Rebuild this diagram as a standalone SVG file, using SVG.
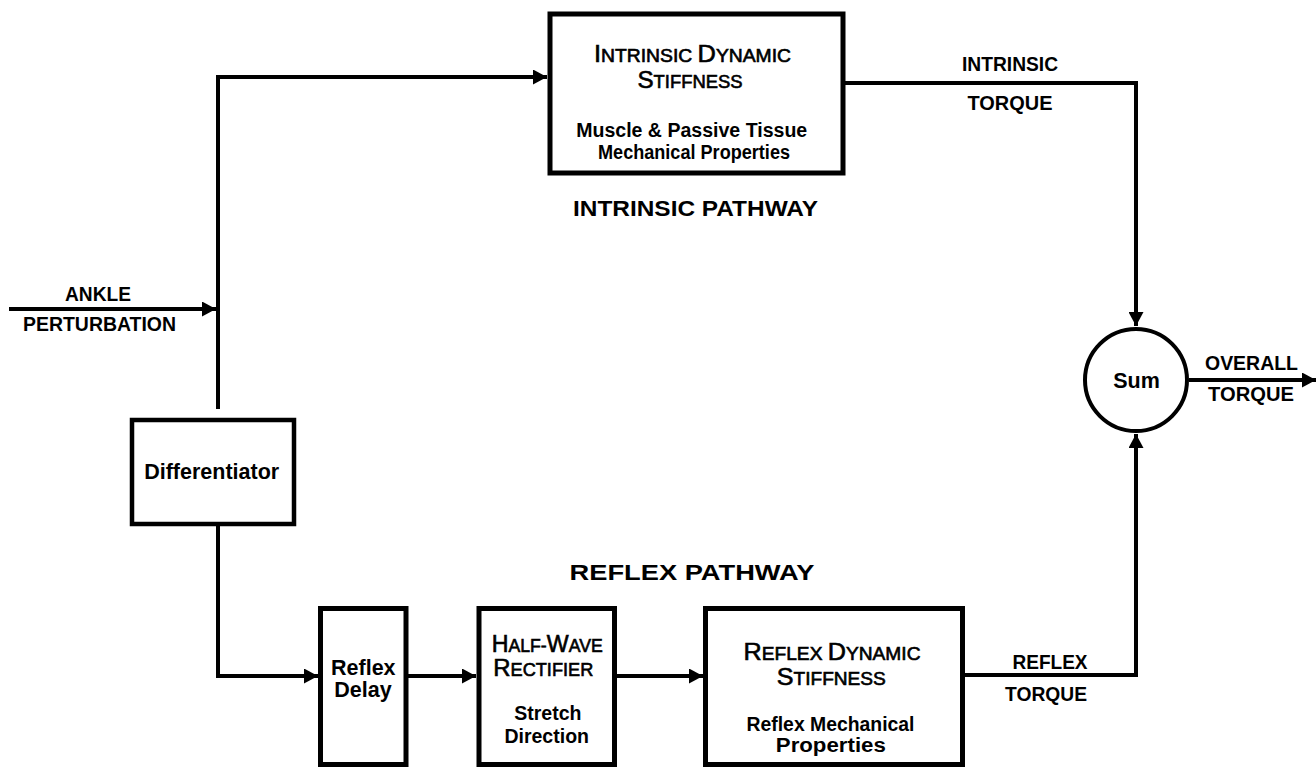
<svg xmlns="http://www.w3.org/2000/svg" width="1316" height="768" viewBox="0 0 1316 768">
<style>
text{font-family:"Liberation Sans",Arial,sans-serif;fill:#000;text-anchor:middle}
.lbl{font-size:20.5px;font-weight:bold}
.path{font-size:22px;font-weight:bold}
.node{font-size:21.5px;font-weight:bold}
.sub{font-size:19.5px;font-weight:bold}
.sc{font-size:17.5px;stroke:#000;stroke-width:0.6}
.big{font-size:23px}
.box{fill:#fff;stroke:#000;stroke-width:5}
.wire{fill:none;stroke:#000;stroke-width:4}
</style>
<defs>
<marker id="ah" markerUnits="userSpaceOnUse" markerWidth="15" markerHeight="15" refX="14" refY="7.5" orient="auto"><path d="M0,0 L14,7.5 L0,15 Z" fill="#000"/></marker>
</defs>
<rect width="1316" height="768" fill="#fff"/>
<g id="connectors">
<path class="wire" d="M9,309 H216" marker-end="url(#ah)"/>
<path class="wire" d="M218,409 V77 H547" marker-end="url(#ah)"/>
<path class="wire" d="M218,524 V676 H318" marker-end="url(#ah)"/>
<path class="wire" d="M408,676 H476" marker-end="url(#ah)"/>
<path class="wire" d="M617,676 H703" marker-end="url(#ah)"/>
<path class="wire" d="M845,83 H1136 V326" marker-end="url(#ah)"/>
<path class="wire" d="M965,675 H1136 V434" marker-end="url(#ah)"/>
<path class="wire" d="M1189,380 H1316" marker-end="url(#ah)"/>
</g>
<g id="labels">
<text class="lbl" x="98" y="301" textLength="66" lengthAdjust="spacingAndGlyphs">ANKLE</text>
<text class="lbl" x="99.5" y="331" textLength="153" lengthAdjust="spacingAndGlyphs">PERTURBATION</text>
<text class="lbl" x="1010" y="71" textLength="96" lengthAdjust="spacingAndGlyphs">INTRINSIC</text>
<text class="lbl" x="1010" y="110" textLength="85" lengthAdjust="spacingAndGlyphs">TORQUE</text>
<text class="lbl" x="1050" y="669" textLength="75" lengthAdjust="spacingAndGlyphs">REFLEX</text>
<text class="lbl" x="1046" y="701" textLength="82" lengthAdjust="spacingAndGlyphs">TORQUE</text>
<text class="lbl" x="1251.5" y="370" textLength="93" lengthAdjust="spacingAndGlyphs">OVERALL</text>
<text class="lbl" x="1251" y="401" textLength="86" lengthAdjust="spacingAndGlyphs">TORQUE</text>
<text class="path" x="695.5" y="216" textLength="245" lengthAdjust="spacingAndGlyphs">INTRINSIC PATHWAY</text>
<text class="path" x="692" y="580" textLength="245" lengthAdjust="spacingAndGlyphs">REFLEX PATHWAY</text>
</g>
<g id="intrinsic">
<rect class="box" x="550" y="14" width="293" height="159"/>
<text class="sc" x="692.5" y="62" textLength="197" lengthAdjust="spacingAndGlyphs"><tspan class="big">I</tspan>NTRINSIC <tspan class="big">D</tspan>YNAMIC</text>
<text class="sc" x="690" y="88" textLength="105" lengthAdjust="spacingAndGlyphs"><tspan class="big">S</tspan>TIFFNESS</text>
<text class="sub" x="691.7" y="137" textLength="231" lengthAdjust="spacingAndGlyphs">Muscle &amp; Passive Tissue</text>
<text class="sub" x="694" y="159" textLength="192" lengthAdjust="spacingAndGlyphs">Mechanical Properties</text>
</g>
<g id="differentiator">
<rect class="box" x="132" y="420" width="162" height="104" style="stroke-width:4.5"/>
<text class="node" x="211.7" y="479" textLength="135" lengthAdjust="spacingAndGlyphs">Differentiator</text>
</g>
<g id="reflex-delay">
<rect class="box" x="320.5" y="608.5" width="85.5" height="156"/>
<text class="node" x="363.3" y="675">Reflex</text>
<text class="node" x="363" y="697">Delay</text>
</g>
<g id="half-wave">
<rect class="box" x="479" y="608.5" width="135.5" height="156"/>
<text class="sc" x="547.2" y="652" textLength="111" lengthAdjust="spacingAndGlyphs"><tspan class="big">H</tspan>ALF-<tspan class="big">W</tspan>AVE</text>
<text class="sc" x="543.3" y="676" textLength="100" lengthAdjust="spacingAndGlyphs"><tspan class="big">R</tspan>ECTIFIER</text>
<text class="sub" x="547.8" y="720">Stretch</text>
<text class="sub" x="546.7" y="743">Direction</text>
</g>
<g id="reflex-stiffness">
<rect class="box" x="705.5" y="608.5" width="257" height="156"/>
<text class="sc" x="832" y="660" textLength="177" lengthAdjust="spacingAndGlyphs"><tspan class="big">R</tspan>EFLEX <tspan class="big">D</tspan>YNAMIC</text>
<text class="sc" x="831.3" y="685" textLength="109" lengthAdjust="spacingAndGlyphs"><tspan class="big">S</tspan>TIFFNESS</text>
<text class="sub" x="830.5" y="731" textLength="168" lengthAdjust="spacingAndGlyphs">Reflex Mechanical</text>
<text class="sub" x="830.8" y="752" textLength="110" lengthAdjust="spacingAndGlyphs">Properties</text>
</g>
<g id="sum">
<circle cx="1136" cy="380" r="51" fill="#fff" stroke="#000" stroke-width="4"/>
<text class="node" x="1136.5" y="388">Sum</text>
</g>
</svg>
